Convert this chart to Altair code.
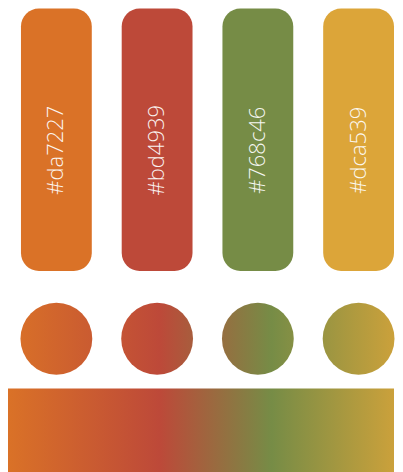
import altair as alt
import pandas as pd

# swatch colours (labels as written on the swatches)
hexes = ["#da7227", "#bd4939", "#768c46", "#dca539"]

df = pd.DataFrame({"hex": hexes})

W = 387          # full usable page width
RECT_H = 263
MID_H = 118
BAR_H = 84
DIAM = 72

# band layout of the four swatches
BAND_START, BAND_END, PAD_IN = 13, 387, 0.297
xscale = alt.Scale(type="band", domain=hexes, range=[BAND_START, BAND_END],
                   paddingInner=PAD_IN, paddingOuter=0)
xenc = alt.X("hex:N", sort=hexes, scale=xscale, axis=None)

# blended strip: gradient runs (in chart px) from G0 to G1, colour stops at these px
G0, G1 = -1.0, 412.0
stop_px = [-1.0, 152.0, 264.0, 412.0]
stops = [alt.GradientStop(offset=(p - G0) / (G1 - G0), color=c) for p, c in zip(stop_px, hexes)]

rect_layer = alt.Chart(df).mark_rect(cornerRadius=18).encode(
    x=xenc,
    y=alt.value(0),
    y2=alt.value(RECT_H),
    color=alt.Color("hex:N", scale=alt.Scale(domain=hexes, range=hexes), legend=None),
)
text_layer = alt.Chart(df).mark_text(
    angle=270, align="center", baseline="middle", fontSize=22,
    font="Open Sans", fontWeight=300, color="white", opacity=0.93,
).encode(x=xenc, y=alt.value(142), text="hex:N")

top = alt.layer(rect_layer, text_layer).properties(width=W, height=RECT_H)

# band geometry -> gradient window for each circle
n = len(hexes)
step = (BAND_END - BAND_START) / (n - PAD_IN)
bw = step * (1 - PAD_IN)
circle_layers = []
for i, h in enumerate(hexes):
    center = BAND_START + i * step + bw / 2
    L = center - DIAM / 2
    grad = alt.LinearGradient(
        gradient="linear",
        x1=(G0 - L) / DIAM, x2=(G1 - L) / DIAM, y1=0, y2=0,
        stops=stops,
    )
    circle_layers.append(
        alt.Chart(df).transform_filter(alt.datum.hex == h)
        .mark_circle(size=DIAM ** 2, fill=grad, opacity=1)
        .encode(x=xenc, y=alt.value(68))
    )
mid = alt.layer(*circle_layers).properties(width=W, height=MID_H)

bar_grad = alt.LinearGradient(
    gradient="linear", x1=G0 / W, x2=G1 / W, y1=0, y2=0, stops=stops
)
bottom = alt.Chart(pd.DataFrame({"k": [0]})).mark_rect(fill=bar_grad).encode(
    x=alt.value(0), x2=alt.value(W), y=alt.value(0), y2=alt.value(BAR_H)
).properties(width=W, height=BAR_H)

chart = alt.vconcat(top, mid, bottom, spacing=0).properties(
    padding=0, background="white"
).configure_view(stroke=None)

chart.save("out.html", embed_options={"renderer": "svg", "actions": False})
